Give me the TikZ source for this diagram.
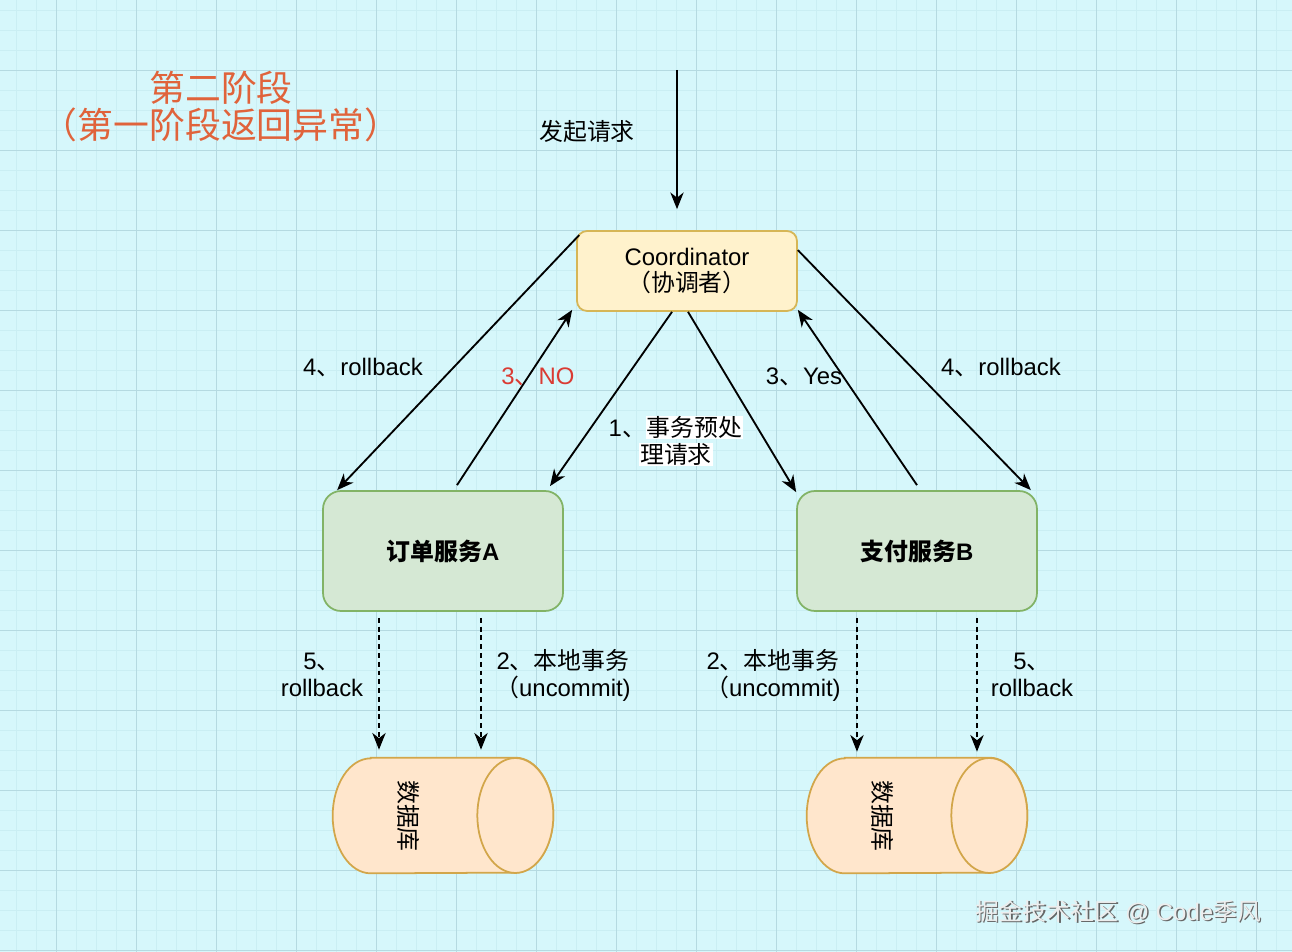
\documentclass[tikz,border=0pt]{standalone}
\usepackage{fontspec}
\setmainfont{Liberation Sans}
\newfontfamily\cjk{Noto Sans CJK SC}
\newcommand\zh[1]{{\cjk #1}}
\usetikzlibrary{arrows.meta,calc}
\definecolor{bgc}{HTML}{D6F7FB}
\definecolor{gridminor}{HTML}{CAEEF3}
\definecolor{gridmajor}{HTML}{B5DAE1}
\definecolor{titlec}{HTML}{E0633B}
\definecolor{noc}{HTML}{DA3B33}
\definecolor{coordfill}{HTML}{FFF2CC}
\definecolor{coorddraw}{HTML}{D6B656}
\definecolor{svcfill}{HTML}{D5E8D4}
\definecolor{svcdraw}{HTML}{82B366}
\definecolor{dbfill}{HTML}{FFE6CC}
\definecolor{dbdraw}{HTML}{D2A64A}
\newcommand\fs{\fontsize{13.6}{15.3}\selectfont}
\tikzset{
  arr/.style={line width=1.05pt, -{Stealth[length=9.5pt,width=7.6pt,inset=3pt]}},
  darr/.style={arr, dash pattern=on 2.8pt off 2.2pt},
  lbl/.style={font=\fs, inner sep=0pt, align=center},
  coordbox/.style={draw=coorddraw, fill=coordfill, line width=1pt, rounded corners=0.2cm,
    minimum width=4.4cm, minimum height=1.6cm, align=center, font=\fs, inner sep=0pt},
  svcbox/.style={draw=svcdraw, fill=svcfill, line width=1pt, rounded corners=0.36cm,
    minimum width=4.8cm, minimum height=2.4cm, font=\fs\bfseries, inner sep=0pt},
  dbbox/.style={minimum width=4.4cm, minimum height=2.3cm, inner sep=0pt},
  dbshape/.style={draw=dbdraw, fill=dbfill, line width=1pt},
}
\begin{document}
\begin{tikzpicture}[x=0.02cm,y=-0.02cm]
\fboxsep=0.5pt
% background and grid
\fill[bgc] (0,0) rectangle (1292,952);
\useasboundingbox (0,0) rectangle (1292,952);
\foreach \i in {0,...,64} \draw[gridminor, line width=0.3pt] ({16.7+20*\i},0) -- ({16.7+20*\i},952);
\foreach \i in {0,...,47} \draw[gridminor, line width=0.3pt] (0,{10+20*\i}) -- (1292,{10+20*\i});
\foreach \i in {0,...,15} \draw[gridmajor, line width=0.5pt] ({56.7+80*\i},0) -- ({56.7+80*\i},952);
\foreach \i in {0,...,11} \draw[gridmajor, line width=0.5pt] (0,{70+80*\i}) -- (1292,{70+80*\i});

% title
\node[align=center, text=titlec, inner sep=0pt, font=\cjk\fontsize{20.4}{21}\selectfont] (title) at (221,107) {第二阶段\\（第一阶段返回异常）};

% nodes
\node[coordbox] (coord) at (687,271) {Coordinator\\\zh{（协调者）}};
\node[svcbox] (A) at (443,551) {\zh{订单服务}A};
\node[svcbox] (B) at (917,551) {\zh{支付服务}B};
\node[dbbox] (dbL) at (443,815.5) {};
\node[dbbox] (dbR) at (917,815.5) {};

% cylinders
\foreach \n in {dbL,dbR}{
  \draw[dbshape] ($(\n.north west)+(38,0)$) -- ($(\n.north east)+(-38,0)$)
     arc[start angle=90,end angle=-90,x radius=0.76cm,y radius=1.15cm]
     -- ($(\n.south west)+(38,0)$)
     arc[start angle=270,end angle=90,x radius=0.76cm,y radius=1.15cm] -- cycle;
  \draw[dbshape] ($(\n.east)+(-38,0)$) ellipse[x radius=0.76cm,y radius=1.15cm];
}
\node[rotate=-90, font=\cjk\fs, inner sep=0pt] (dbLt) at (409,816) {数据库};
\node[rotate=-90, font=\cjk\fs, inner sep=0pt] (dbRt) at (883,816) {数据库};

% request arrow
\coordinate (src) at (677,70);
\draw[arr] (src) -- ($(coord.north)+(-10,-21)$);
\node[lbl] (lreq) at (587,131) {\zh{发起请求}};

% solid connectors
\draw[arr] ($(coord.south)+(-15,0)$) -- ($(A.north)+(107,-4)$);
\draw[arr] ($(coord.south)+(1,0)$) -- ($(B.north west)+(0,2)$);
\draw[arr] ($(A.north)+(14,-5)$) -- ($(coord.south west)+(-4,-2)$);
\draw[arr] ($(B.north)+(0,-5)$) -- ($(coord.south east)+(0,-2)$);
\draw[arr] ($(coord.north west)+(3,5)$) -- ($(A.north west)+(15,0)$);
\draw[arr] ($(coord.north east)+(0,20)$) -- ($(B.north east)+(-7,0)$);

% dashed connectors
\draw[darr] ($(A.south)+(-64,6)$) -- ($(dbL.north)+(-64,-8)$);
\draw[darr] ($(A.south)+(38,6)$) -- ($(dbL.north)+(38,-8)$);
\draw[darr] ($(B.south)+(-60,6)$) -- ($(dbR.north)+(-60,-6)$);
\draw[darr] ($(B.south)+(60,6)$) -- ($(dbR.north)+(60,-6)$);

% labels
\node[lbl] (l4L) at (363,368) {4\zh{、}rollback};
\node[lbl, text=noc] (lNO) at (538,377) {3\zh{、}NO};
\node[lbl] (l1) at (676,441) {1\zh{、}\colorbox{white}{\zh{事务预处}}\\\colorbox{white}{\zh{理请求}}};
\node[lbl] (lYes) at (804,377) {3\zh{、}Yes};
\node[lbl] (l4R) at (1001,368) {4\zh{、}rollback};
\node[lbl] (l5L) at (322,675) {5\zh{、}\\rollback};
\node[lbl] (l2L) at (563,675) {2\zh{、本地事务}\\\zh{（}uncommit)};
\node[lbl] (l2R) at (773,675) {2\zh{、本地事务}\\\zh{（}uncommit)};
\node[lbl] (l5R) at (1032,675) {5\zh{、}\\rollback};

% watermark
\node[lbl, text=black!60] (wms) at (1119.5,913.5) {\zh{掘金技术社区} @ Code\zh{季风}};
\node[lbl, text=white!93!black] (wm) at (1118,912) {\zh{掘金技术社区} @ Code\zh{季风}};
\end{tikzpicture}
\end{document}
